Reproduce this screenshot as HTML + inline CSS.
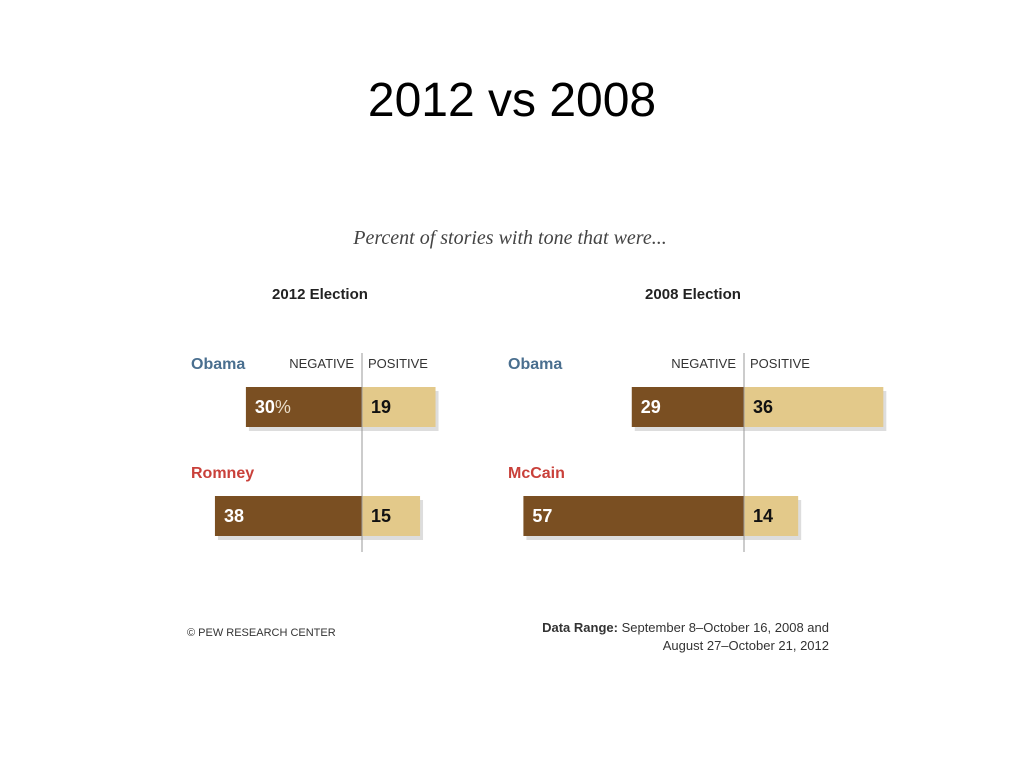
<!DOCTYPE html>
<html><head><meta charset="utf-8"><style>
body{margin:0;background:#fff;width:1024px;height:768px;overflow:hidden;font-family:"Liberation Sans",sans-serif}
</style></head><body>
<svg width="1024" height="768" id="svg">
<text x="512" y="116" text-anchor="middle" font-size="48" fill="#000">2012 vs 2008</text>
<text x="510" y="244" text-anchor="middle" font-family="Liberation Serif" font-style="italic" font-size="20" fill="#444">Percent of stories with tone that were...</text>
<text x="320" y="299" text-anchor="middle" font-weight="bold" font-size="15" fill="#222">2012 Election</text>
<text x="693" y="299" text-anchor="middle" font-weight="bold" font-size="15" fill="#222">2008 Election</text>
<text x="187" y="636" font-size="11" fill="#333">© PEW RESEARCH CENTER</text>
<text x="829" y="632" text-anchor="end" font-size="13" fill="#333"><tspan font-weight="bold">Data Range:</tspan> September 8–October 16, 2008 and</text>
<text x="829" y="650" text-anchor="end" font-size="13" fill="#333">August 27–October 21, 2012</text>
<g id="marks"></g>
</svg>
<script>
const panels = ["2012", "2008"];
const candidates2012 = ["Obama", "Romney"];
const candidates2008 = ["Obama", "McCain"];
const negative2012 = [30, 38];
const positive2012 = [19, 15];
const negative2008 = [29, 57];
const positive2008 = [36, 14];
const candColors = {Obama:"#4a6f8f", Romney:"#c9403a", McCain:"#c9403a"};
const NS="http://www.w3.org/2000/svg";
const g=document.getElementById('marks');
const scale=3.87;
function mk(tag,attrs,txt){const e=document.createElementNS(NS,tag);for(const k in attrs)e.setAttribute(k,attrs[k]);if(txt!==undefined)e.textContent=txt;g.appendChild(e);return e;}
const cfg=[{axis:362,label:191,c:candidates2012,n:negative2012,p:positive2012,key:"2012"},{axis:744,label:508,c:candidates2008,n:negative2008,p:positive2008,key:"2008"}];
const rowY=[387,496];
cfg.forEach((P)=>{
  let l=mk('line',{x1:P.axis,y1:353,x2:P.axis,y2:552,stroke:"#999","stroke-width":1});
  
  
  let t=mk('text',{x:P.axis-8,y:368,"text-anchor":"end","font-size":13,fill:"#333"},"NEGATIVE");
  
  
  t=mk('text',{x:P.axis+6,y:368,"font-size":13,fill:"#333"},"POSITIVE");
  
  
  P.c.forEach((name,i)=>{
    const y=rowY[i];
    let nm=mk('text',{x:P.label,y:y-18,"font-size":16,"font-weight":"bold",fill:candColors[name]},name);
    
    
    const nw=P.n[i]*scale, pw=P.p[i]*scale;
    let sh=mk('rect',{x:P.axis-nw+3,y:y+4,width:nw+pw,height:40,fill:"#ddd"});
    
    
    let b=mk('rect',{x:P.axis-nw,y:y,width:nw,height:40,fill:"#7a4f22"});
    
    
    b=mk('rect',{x:P.axis,y:y,width:pw,height:40,fill:"#e3c98a"});
    
    
    let v=mk('text',{x:P.axis-nw+9,y:y+26,"font-size":18,"font-weight":"bold",fill:"#fff"},P.n[i]);
    if(P.key==="2012"&&i===0){const ts=document.createElementNS(NS,'tspan');ts.setAttribute('font-weight','normal');ts.setAttribute('fill','#e8dcc8');ts.textContent='%';v.appendChild(ts);}
    
    
    v=mk('text',{x:P.axis+9,y:y+26,"font-size":18,"font-weight":"bold",fill:"#111"},P.p[i]);
    
    
  });
  g.insertBefore(l, null);
});
</script>
</body></html>
